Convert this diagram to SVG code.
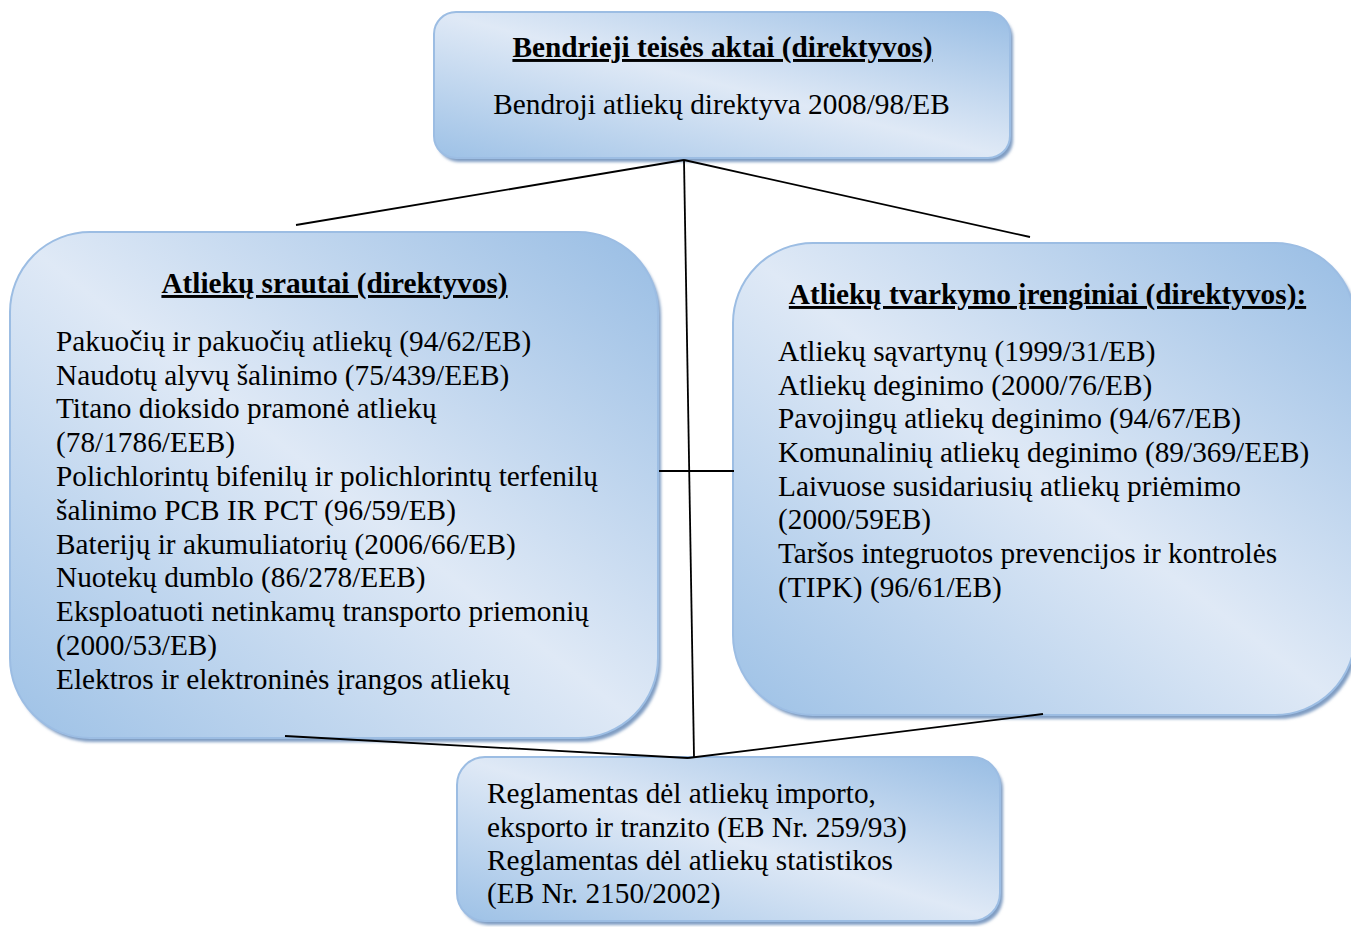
<svg xmlns="http://www.w3.org/2000/svg" width="1351" height="927" viewBox="0 0 1351 927">
<defs>
<linearGradient id="g" x1="1" y1="0" x2="0" y2="1">
<stop offset="0" stop-color="#98bde4"/>
<stop offset="0.5" stop-color="#dfe9f6"/>
<stop offset="1" stop-color="#9dc1e6"/>
</linearGradient>
<filter id="sh" x="-5%" y="-5%" width="110%" height="115%">
<feGaussianBlur stdDeviation="1.5"/>
</filter>
</defs>
<style>
.box{fill:url(#g);stroke:#9cbde3;stroke-width:2}
.shadow{fill:#7f9cc2;filter:url(#sh)}
.t{font-family:"Liberation Serif","Times New Roman",serif;font-size:29.3px;fill:#000}
.h{font-weight:bold;text-decoration:underline}
.c{stroke:#000;stroke-width:1.8;fill:none}
</style>
<rect width="1351" height="927" fill="#fff"/>
<g id="top">
<rect class="shadow" x="437" y="16" width="576" height="146" rx="22"/>
<rect class="box" x="434" y="12" width="576" height="146" rx="22"/>
<text class="t h" x="722.5" y="57" text-anchor="middle">Bendrieji teisės aktai (direktyvos)</text>
<text class="t" x="721.5" y="114" text-anchor="middle">Bendroji atliekų direktyva 2008/98/EB</text>
</g>
<g id="left">
<rect class="shadow" x="13" y="236" width="648" height="506" rx="80"/>
<rect class="box" x="10" y="232" width="648" height="506" rx="80"/>
<text class="t h" x="334.5" y="293" text-anchor="middle">Atliekų srautai (direktyvos)</text>
<text class="t" x="56" y="351">Pakuočių ir pakuočių atliekų (94/62/EB)</text>
<text class="t" x="56" y="385">Naudotų alyvų šalinimo (75/439/EEB)</text>
<text class="t" x="56" y="418">Titano dioksido pramonė atliekų</text>
<text class="t" x="56" y="452">(78/1786/EEB)</text>
<text class="t" x="56" y="486">Polichlorintų bifenilų ir polichlorintų terfenilų</text>
<text class="t" x="56" y="520">šalinimo PCB IR PCT (96/59/EB)</text>
<text class="t" x="56" y="554">Baterijų ir akumuliatorių (2006/66/EB)</text>
<text class="t" x="56" y="587">Nuotekų dumblo (86/278/EEB)</text>
<text class="t" x="56" y="621">Eksploatuoti netinkamų transporto priemonių</text>
<text class="t" x="56" y="655">(2000/53/EB)</text>
<text class="t" x="56" y="689">Elektros ir elektroninės įrangos atliekų</text>
</g>
<g id="right">
<rect class="shadow" x="736" y="247" width="622" height="472" rx="80"/>
<rect class="box" x="733" y="243" width="622" height="472" rx="80"/>
<text class="t h" x="1047.5" y="304" text-anchor="middle">Atliekų tvarkymo įrenginiai (direktyvos):</text>
<text class="t" x="778" y="361">Atliekų sąvartynų (1999/31/EB)</text>
<text class="t" x="778" y="395">Atliekų deginimo (2000/76/EB)</text>
<text class="t" x="778" y="428">Pavojingų atliekų deginimo (94/67/EB)</text>
<text class="t" x="778" y="462">Komunalinių atliekų deginimo (89/369/EEB)</text>
<text class="t" x="778" y="496">Laivuose susidariusių atliekų priėmimo</text>
<text class="t" x="778" y="529">(2000/59EB)</text>
<text class="t" x="778" y="563">Taršos integruotos prevencijos ir kontrolės</text>
<text class="t" x="778" y="597">(TIPK) (96/61/EB)</text>
</g>
<g id="bottom">
<rect class="shadow" x="460" y="761" width="543" height="164" rx="28"/>
<rect class="box" x="457" y="757" width="543" height="164" rx="28"/>
<text class="t" x="487" y="803">Reglamentas dėl atliekų importo,</text>
<text class="t" x="487" y="837">eksporto ir tranzito (EB Nr. 259/93)</text>
<text class="t" x="487" y="870">Reglamentas dėl atliekų statistikos</text>
<text class="t" x="487" y="903">(EB Nr. 2150/2002)</text>
</g>
<g id="connectors">
<line class="c" x1="684" y1="160" x2="296" y2="225"/>
<line class="c" x1="684" y1="160" x2="1030" y2="237"/>
<line class="c" x1="684" y1="160" x2="694" y2="757"/>
<line class="c" x1="659" y1="471" x2="734" y2="471"/>
<line class="c" x1="285" y1="736" x2="688" y2="758"/>
<line class="c" x1="1043" y1="714" x2="688" y2="758"/>
</g>
</svg>
